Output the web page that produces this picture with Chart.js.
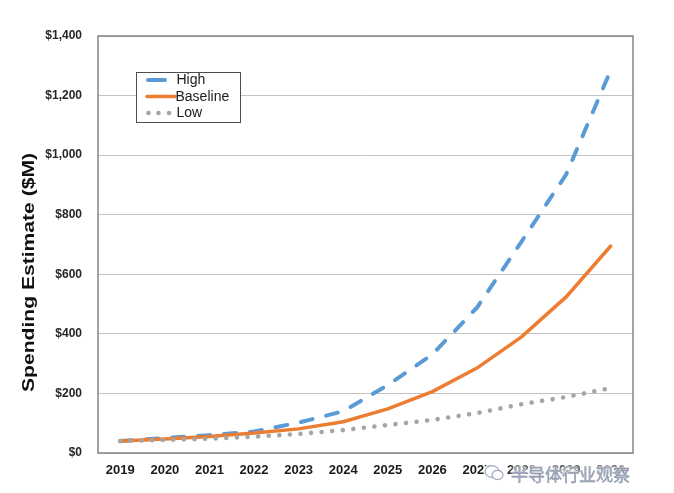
<!DOCTYPE html>
<html>
<head>
<meta charset="utf-8">
<script src="https://cdn.jsdelivr.net/npm/chart.js@4.4.0/dist/chart.umd.min.js"></script>
<style>
  html, body { margin: 0; padding: 0; background: #fff; }
  #wrap { position: relative; width: 674px; height: 493px; overflow: hidden; }
  canvas { display: block; }
  #wm { position: absolute; left: 484px; top: 461px; height: 24px; display: flex; align-items: center;
        font-family: "Noto Sans CJK SC", sans-serif; font-size: 17px; color: rgba(165,175,195,1);
        text-shadow: 0 0 1px #fff, 0 0 2px #fff, 0 0 3px #fff, 0 0 4px #fff, 0 0 5px #fff, 0 0 6px #fff;
        white-space: nowrap; }
  #wm span { -webkit-text-stroke: 0.4px rgba(120,130,150,0.9); }
  #wm svg { margin-right: 6px; }
</style>
</head>
<body>
<div id="wrap">
  <canvas id="c" width="674" height="493"></canvas>
  <div id="wm"><svg width="21" height="18" viewBox="0 0 21 18"><rect x="0" y="0" width="21" height="18" rx="6" fill="rgba(255,255,255,0.85)"/><ellipse cx="8" cy="7.5" rx="7" ry="5.8" fill="#fff" stroke="rgba(150,160,185,0.9)" stroke-width="1.2"/><ellipse cx="13.5" cy="11" rx="5.5" ry="4.6" fill="#fff" stroke="rgba(150,160,185,0.9)" stroke-width="1.2"/></svg><span>半导体行业观察</span></div>
</div>
<script>
const years = ['2019','2020','2021','2022','2023','2024','2025','2026','2027','2028','2029','2030'];
const highValues = [40, 50, 60, 72, 102, 140, 228, 331, 488, 710, 935, 1285];
const baselineValues = [40, 47, 55, 67, 81, 105, 148, 206, 285, 390, 524, 695];
const lowValues = [40, 44, 48, 55, 64, 77, 94, 111, 134, 164, 188, 218];
const yTickValues = [0, 200, 400, 600, 800, 1000, 1200, 1400];
const yTitle = 'Spending Estimate ($M)';
const seriesNames = ['High', 'Baseline', 'Low'];

const frame = {
  id: 'frame',
  beforeDatasetsDraw(chart) {
    const a = chart.chartArea, ctx = chart.ctx;
    ctx.save();
    ctx.strokeStyle = '#858585';
    ctx.lineWidth = 1.5;
    ctx.strokeRect(a.left, a.top, a.right - a.left, a.bottom - a.top);
    ctx.restore();
  }
};

const yTitlePlugin = {
  id: 'ytitle',
  afterDraw(chart) {
    const ctx = chart.ctx;
    ctx.save();
    ctx.translate(29.5, 272.5);
    ctx.rotate(-Math.PI / 2);
    ctx.font = 'bold 16px "Liberation Sans", Arial, sans-serif';
    const w = ctx.measureText(yTitle).width;
    ctx.scale(239 / w, 1);
    ctx.fillStyle = '#111';
    ctx.textAlign = 'center';
    ctx.textBaseline = 'middle';
    ctx.fillText(yTitle, 0, 0);
    ctx.restore();
  }
};

const legendBox = {
  id: 'legendBox',
  afterDraw(chart) {
    const ctx = chart.ctx;
    const x = 136, y = 72, w = 104, h = 50;
    ctx.save();
    ctx.fillStyle = '#fff';
    ctx.fillRect(x, y, w, h);
    ctx.strokeStyle = '#4d4d4d';
    ctx.lineWidth = 1;
    ctx.strokeRect(x + 0.5, y + 0.5, w, h);
    const rows = [80, 96.5, 113];
    chart.data.datasets.forEach((ds, i) => {
      const ry = rows[i];
      ctx.save();
      ctx.strokeStyle = ds.borderColor;
      ctx.lineWidth = ds.borderWidth;
      ctx.lineCap = ds.borderCapStyle || 'butt';
      if (i === 0) {
        ctx.beginPath();
        ctx.moveTo(148, ry); ctx.lineTo(165, ry);
        ctx.stroke();
      } else if (i === 1) {
        ctx.beginPath();
        ctx.moveTo(147, ry); ctx.lineTo(175, ry);
        ctx.stroke();
      } else {
        ctx.fillStyle = ds.borderColor;
        [148.5, 158.5, 169].forEach(px => { ctx.beginPath(); ctx.arc(px, ry, 2.3, 0, Math.PI * 2); ctx.fill(); });
      }
      ctx.restore();
      ctx.fillStyle = '#1a1a1a';
      ctx.font = '14px "Liberation Sans", Arial, sans-serif';
      ctx.textBaseline = 'middle';
      ctx.textAlign = 'left';
      ctx.fillText(ds.label, i === 1 ? 175.5 : 176.5, ry + 0.5);
    });
    ctx.restore();
  }
};

new Chart(document.getElementById('c'), {
  type: 'line',
  data: {
    labels: years,
    datasets: [
      { label: seriesNames[0], data: highValues, borderColor: '#5b9bd5', borderWidth: 4,
        borderDash: [12, 14], borderCapStyle: 'round', order: 2 },
      { label: seriesNames[1], data: baselineValues, borderColor: '#ed7d31', borderWidth: 3.5,
        borderCapStyle: 'round', order: 1 },
      { label: seriesNames[2], data: lowValues, borderColor: '#a5a5a5', borderWidth: 4.6,
        borderDash: [0.01, 10.6], borderCapStyle: 'round', order: 0 }
    ]
  },
  options: {
    responsive: false,
    animation: false,
    devicePixelRatio: 1,
    elements: { point: { radius: 0, hoverRadius: 0 }, line: { tension: 0, fill: false } },
    layout: { padding: { left: 0, right: 41, top: 36, bottom: 0 } },
    plugins: { legend: { display: false }, tooltip: { enabled: false }, title: { display: false } },
    scales: {
      x: {
        offset: true,
        grid: { display: false, drawTicks: false },
        border: { display: false },
        ticks: { padding: 10, color: '#1a1a1a', maxRotation: 0, autoSkip: false,
                 font: { family: '"Liberation Sans", Arial, sans-serif', size: 13, weight: 'bold' } },
        afterFit(s) { s.height = 40; }
      },
      y: {
        min: 0, max: 1400,
        afterBuildTicks(s) { s.ticks = yTickValues.map(v => ({ value: v })); },
        grid: { color: '#c3c3c3', lineWidth: 1, drawTicks: false },
        border: { display: false },
        ticks: { padding: 16, color: '#262626',
                 font: { family: '"Liberation Sans", Arial, sans-serif', size: 12, weight: 'bold' },
                 callback: v => '$' + Number(v).toLocaleString('en-US') },
        afterFit(s) { s.width = 98; }
      }
    }
  },
  plugins: [frame, yTitlePlugin, legendBox]
});
</script>
</body>
</html>
